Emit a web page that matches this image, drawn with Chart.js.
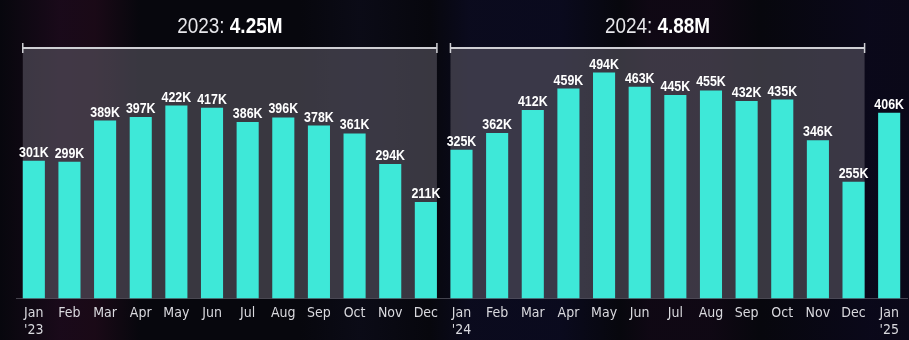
<!DOCTYPE html>
<html>
<head>
<meta charset="utf-8">
<script src="https://cdn.jsdelivr.net/npm/chart.js@4.4.1/dist/chart.umd.min.js"></script>
<style>
  html, body { margin: 0; padding: 0; }
  body {
    width: 909px; height: 340px; overflow: hidden;
    background:
      linear-gradient(90deg,
        rgba(0,0,0,0) 0px, rgba(60,15,50,0.35) 60px, rgba(70,15,45,0.30) 95px, rgba(0,0,0,0) 140px,
        rgba(0,0,0,0) 300px, rgba(20,20,45,0.30) 360px, rgba(0,0,0,0) 430px,
        rgba(15,15,50,0.45) 470px, rgba(15,15,55,0.40) 560px, rgba(0,0,0,0) 620px,
        rgba(40,10,40,0.25) 650px, rgba(40,10,40,0.25) 710px, rgba(0,0,0,0) 760px,
        rgba(15,10,45,0.40) 870px, rgba(15,10,40,0.40) 909px),
      #07070d;
  }
  #wrap { position: relative; width: 909px; height: 340px; }
</style>
</head>
<body>
<div id="wrap"><canvas id="chart" width="909" height="340"></canvas></div>
<script>
// Monthly values in thousands
const months = ['Jan','Feb','Mar','Apr','May','Jun','Jul','Aug','Sep','Oct','Nov','Dec'];
const values2023 = [301, 299, 389, 397, 422, 417, 386, 396, 378, 361, 294, 211];
const values2024 = [325, 362, 412, 459, 494, 463, 445, 455, 432, 435, 346, 255];
const values2025 = [406];
const years = ['2023', '2024'];
const yearTotals = ['4.25M', '4.88M'];

const TEXT_FONT = '"Liberation Sans", Arial, sans-serif';
const TICK_FONT = '"DejaVu Sans Condensed", "Liberation Sans", sans-serif';

const categories = [
  ...months.map((m, i) => i === 0 ? [m, "'23"] : m),
  ...months.map((m, i) => i === 0 ? [m, "'24"] : m),
  ['Jan', "'25"]
];
const values = [...values2023, ...values2024, ...values2025];
const yearGroups = [
  { first: 0, last: values2023.length - 1 },
  { first: values2023.length, last: values2023.length + values2024.length - 1 }
];

// Draws text squeezed horizontally to get a condensed look
function narrowText(ctx, text, x, y, squeeze) {
  ctx.save();
  ctx.translate(x, y);
  ctx.scale(squeeze, 1);
  ctx.fillText(text, 0, 0);
  ctx.restore();
}

// Shaded year panels with a bracket and title above each
const yearPanels = {
  id: 'yearPanels',
  beforeDatasetsDraw(chart) {
    const { ctx, chartArea } = chart;
    const meta = chart.getDatasetMeta(0);
    const base = chart.scales.y.getPixelForValue(0);
    yearGroups.forEach(g => {
      const a = meta.data[g.first], b = meta.data[g.last];
      const left = a.x - a.width / 2, right = b.x + b.width / 2;
      const top = chartArea.top + 1;
      ctx.save();
      ctx.fillStyle = 'rgba(98,95,108,0.55)';
      ctx.fillRect(left, top, right - left, base - top);
      ctx.strokeStyle = '#cfcfd4';
      ctx.lineWidth = 2;
      ctx.beginPath();
      ctx.moveTo(left, top);
      ctx.lineTo(right, top);
      ctx.stroke();
      ctx.lineWidth = 1.5;
      ctx.beginPath();
      ctx.moveTo(left, top - 5); ctx.lineTo(left, top + 5);
      ctx.moveTo(right, top - 5); ctx.lineTo(right, top + 5);
      ctx.stroke();
      ctx.restore();
    });
  },
  afterDraw(chart) {
    const { ctx } = chart;
    const meta = chart.getDatasetMeta(0);
    const sq = 0.86;
    yearGroups.forEach((g, i) => {
      const a = meta.data[g.first], b = meta.data[g.last];
      const cx = ((a.x - a.width / 2) + (b.x + b.width / 2)) / 2;
      const lead = years[i] + ': ';
      const total = yearTotals[i];
      ctx.save();
      ctx.textBaseline = 'middle';
      ctx.textAlign = 'left';
      ctx.font = '22px ' + TEXT_FONT;
      const w1 = ctx.measureText(lead).width * sq;
      ctx.font = 'bold 22px ' + TEXT_FONT;
      const w2 = ctx.measureText(total).width * sq;
      const x0 = cx - (w1 + w2) / 2;
      ctx.fillStyle = '#e6e6ea';
      ctx.font = '22px ' + TEXT_FONT;
      narrowText(ctx, lead, x0, 27, sq);
      ctx.fillStyle = '#ffffff';
      ctx.font = 'bold 22px ' + TEXT_FONT;
      narrowText(ctx, total, x0 + w1, 27, sq);
      ctx.restore();
    });
  }
};

// Value labels above each bar
const barLabels = {
  id: 'barLabels',
  afterDatasetsDraw(chart) {
    const { ctx } = chart;
    const meta = chart.getDatasetMeta(0);
    ctx.save();
    ctx.font = 'bold 15.5px ' + TEXT_FONT;
    ctx.fillStyle = '#ffffff';
    ctx.textAlign = 'center';
    ctx.textBaseline = 'alphabetic';
    meta.data.forEach((bar, i) => {
      narrowText(ctx, values[i] + 'K', bar.x, bar.y - 4, 0.8);
    });
    ctx.restore();
  }
};

new Chart(document.getElementById('chart'), {
  type: 'bar',
  data: {
    labels: categories,
    datasets: [{
      data: values,
      backgroundColor: '#3ee8d8',
      borderWidth: 0,
      categoryPercentage: 1,
      barPercentage: 0.62
    }]
  },
  options: {
    responsive: false,
    animation: false,
    events: [],
    layout: { padding: { top: 47, left: 16, right: 2, bottom: -6 } },
    plugins: { legend: { display: false }, tooltip: { enabled: false } },
    scales: {
      x: {
        offset: true,
        grid: { display: false, drawTicks: false },
        border: { display: true, color: 'rgba(140,140,150,0.45)', width: 1 },
        ticks: {
          color: '#d9d9de',
          padding: 7,
          maxRotation: 0,
          autoSkip: false,
          font: { family: TICK_FONT, size: 14, lineHeight: 1.2 }
        }
      },
      y: {
        display: false,
        min: 0,
        max: 550
      }
    }
  },
  plugins: [yearPanels, barLabels]
});
</script>
</body>
</html>
